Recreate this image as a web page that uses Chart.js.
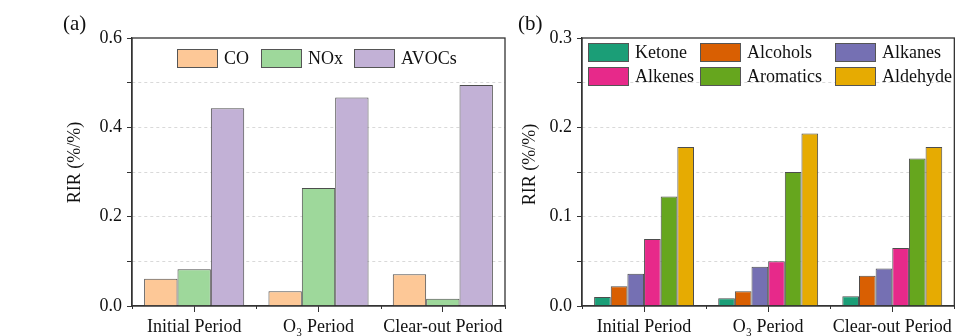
<!DOCTYPE html>
<html>
<head>
<meta charset="utf-8">
<script src="https://cdn.jsdelivr.net/npm/chart.js@4.4.1/dist/chart.umd.min.js"></script>
<style>
  html, body { margin: 0; padding: 0; background: #fff; }
  #wrap { position: relative; width: 956px; height: 336px; overflow: hidden; }
  #chartA { position: absolute; left: 0; top: 0; }
  #chartB { position: absolute; left: 512px; top: 0; }
</style>
</head>
<body>
<div id="wrap">
  <canvas id="chartA" width="512" height="336"></canvas>
  <canvas id="chartB" width="444" height="336"></canvas>
</div>
<script>
const periods = ['Initial Period', 'O\u2083 Period', 'Clear-out Period'];

// (a) RIR of precursor groups
const gasNames = ['CO', 'NOx', 'AVOCs'];
const coValues = [0.061, 0.033, 0.071];
const noxValues = [0.082, 0.264, 0.016];
const avocValues = [0.443, 0.467, 0.495];
const gasColors = ['#fdc897', '#9ed89b', '#c2b1d6'];
const tickLabelsA = ['0.0', '0.2', '0.4', '0.6'];

// (b) RIR of VOC groups
const vocNames = ['Ketone', 'Alcohols', 'Alkanes', 'Alkenes', 'Aromatics', 'Aldehyde'];
const ketoneValues = [0.010, 0.0086, 0.011];
const alcoholValues = [0.022, 0.0165, 0.034];
const alkaneValues = [0.036, 0.044, 0.042];
const alkeneValues = [0.075, 0.050, 0.065];
const aromaticValues = [0.1225, 0.150, 0.165];
const aldehydeValues = [0.178, 0.193, 0.178];
const vocColors = ['#1b9e77', '#d95f02', '#7570b3', '#e7298a', '#66a61e', '#e6ab02'];
const tickLabelsB = ['0.0', '0.1', '0.2', '0.3'];

const serif = '"Liberation Serif", "Times New Roman", serif';
Chart.defaults.font.family = serif;
Chart.defaults.font.size = 18;
Chart.defaults.color = '#111';

// frame, boundary ticks, legend, axis title and panel tag
const panelDecor = {
    id: 'panelDecor',
    afterDraw(chart, args, opts) {
        const ctx = chart.ctx;
        const a = chart.chartArea;
        const x = chart.scales.x;
        ctx.save();

        ctx.strokeStyle = '#333';
        ctx.lineWidth = 1.3;
        ctx.strokeRect(a.left, a.top, a.right - a.left, a.bottom - a.top);

        ctx.lineWidth = 1;
        for (let i = 0; i <= chart.data.labels.length; i++) {
            const px = Math.round(x.getPixelForValue(i - 0.5)) + 0.5;
            ctx.beginPath();
            ctx.moveTo(px, a.bottom);
            ctx.lineTo(px, a.bottom + 3);
            ctx.stroke();
        }

        ctx.font = '18px ' + serif;
        ctx.textBaseline = 'middle';
        chart.data.datasets.forEach((ds, i) => {
            const pos = opts.legend[i];
            const bx = Math.round(a.left + pos[0]);
            const by = Math.round(a.top + pos[1]);
            ctx.fillStyle = ds.backgroundColor;
            ctx.fillRect(bx, by - 9, 40, 19);
            ctx.strokeStyle = '#555';
            ctx.strokeRect(bx + 0.5, by - 8.5, 40, 18);
            ctx.fillStyle = '#111';
            ctx.fillText(ds.label, bx + 47, by + 1);
        });

        // y axis title
        ctx.save();
        ctx.translate(opts.title.x, opts.title.y);
        ctx.rotate(-Math.PI / 2);
        ctx.textAlign = 'center';
        ctx.fillText('RIR (%/%)', 0, 0);
        ctx.restore();

        ctx.font = '21px ' + serif;
        ctx.textBaseline = 'alphabetic';
        ctx.fillText(opts.tag.text, opts.tag.x, opts.tag.y);
        ctx.restore();
    }
};

function makeOptions(yMax, tickLabels, yWidth, padRight, decor) {
    return {
        responsive: false,
        animation: false,
        layout: { padding: { left: 0, right: padRight, top: 38, bottom: 0 } },
        datasets: { bar: { barPercentage: 1.0, categoryPercentage: 0.805 } },
        scales: {
            x: {
                offset: true,
                grid: { offset: false, drawOnChartArea: false, tickLength: 6, tickColor: '#333' },
                border: { color: '#333', width: 1.3 },
                ticks: { padding: 4, color: '#111', maxRotation: 0, autoSkip: false },
                afterFit: (scale) => { scale.height = 30; }
            },
            y: {
                min: 0,
                max: yMax,
                grid: {
                    color: (c) => (c.tick && c.tick.value > 0.0001 && c.tick.value < yMax - 0.0001) ? '#d9d9d9' : 'rgba(0,0,0,0)',
                    tickColor: '#333',
                    tickLength: 5
                },
                border: { color: '#333', width: 1.3, dash: [3, 3] },
                ticks: {
                    stepSize: yMax / 6,
                    padding: 5,
                    color: '#111',
                    callback: (v) => {
                        const s = v.toFixed(1);
                        return tickLabels.includes(s) && Math.abs(v - parseFloat(s)) < 0.001 ? s : '';
                    }
                },
                afterFit: (scale) => { scale.width = yWidth; }
            }
        },
        plugins: {
            legend: { display: false },
            tooltip: { enabled: false },
            panelDecor: decor
        }
    };
}

const gasSeries = [coValues, noxValues, avocValues];
new Chart(document.getElementById('chartA'), {
    type: 'bar',
    data: {
        labels: periods,
        datasets: gasNames.map((name, i) => ({
            label: name,
            data: gasSeries[i],
            backgroundColor: gasColors[i],
            borderColor: '#4d4d4d',
            borderWidth: 1
        }))
    },
    options: makeOptions(0.6, tickLabelsA, 132, 7, {
        legend: [[45, 20], [129, 20], [222, 20]],
        title: { x: 75, y: 162.5 },
        tag: { text: '(a)', x: 63, y: 30 }
    }),
    plugins: [panelDecor]
});

const vocSeries = [ketoneValues, alcoholValues, alkaneValues, alkeneValues, aromaticValues, aldehydeValues];
new Chart(document.getElementById('chartB'), {
    type: 'bar',
    data: {
        labels: periods,
        datasets: vocNames.map((name, i) => ({
            label: name,
            data: vocSeries[i],
            backgroundColor: vocColors[i],
            borderColor: '#4d4d4d',
            borderWidth: 1
        }))
    },
    options: makeOptions(0.3, tickLabelsB, 70, 1, {
        legend: [[6, 14], [118, 14], [253, 14], [6, 38], [118, 38], [253, 38]],
        title: { x: 18, y: 164.5 },
        tag: { text: '(b)', x: 6, y: 30 }
    }),
    plugins: [panelDecor]
});
</script>
</body>
</html>
